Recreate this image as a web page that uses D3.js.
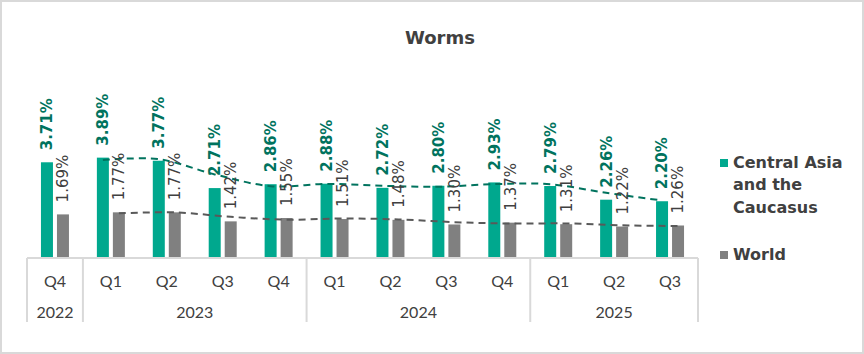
<!DOCTYPE html>
<html>
<head>
<meta charset="utf-8">
<script src="https://cdn.jsdelivr.net/npm/d3@7"></script>
<style>
  body { margin: 0; background: #fff; }
  svg { display: block; }
</style>
</head>
<body>
<div id="chart"></div>
<script>
// chart data
const quarters = ["Q4", "Q1", "Q2", "Q3", "Q4", "Q1", "Q2", "Q3", "Q4", "Q1", "Q2", "Q3"]
const years = [
    { label: "2022", from: 0, to: 0 },
    { label: "2023", from: 1, to: 4 },
    { label: "2024", from: 5, to: 8 },
    { label: "2025", from: 9, to: 11 }
]
const centralAsia = [3.71, 3.89, 3.77, 2.71, 2.86, 2.88, 2.72, 2.80, 2.93, 2.79, 2.26, 2.20]
const world = [1.69, 1.77, 1.77, 1.42, 1.55, 1.51, 1.48, 1.30, 1.37, 1.31, 1.22, 1.26]
const seriesNames = ["Central Asia and the Caucasus", "World"]

const W = 864, H = 354
const green = "#00a88e", greenDark = "#00735e", grey = "#808080", greyDark = "#595959"
const textCol = "#404040", lineCol = "#d9d9d9"

const svg = d3.select("#chart").append("svg")
    .attr("width", W)
    .attr("height", H)

// outer frame
svg.append("rect")
    .attr("x", 1).attr("y", 1)
    .attr("width", W - 2).attr("height", H - 2)
    .attr("fill", "#fff")
    .attr("stroke", lineCol)
    .attr("stroke-width", 2)

// title
svg.append("text")
    .attr("x", 440).attr("y", 44)
    .attr("text-anchor", "middle")
    .style("font-family", "DejaVu Sans")
    .style("font-weight", "bold")
    .style("font-size", "18px")
    .style("fill", textCol)
    .text("Worms")

// scales
const x = d3.scaleBand()
    .domain(d3.range(quarters.length))
    .range([27, 698])
    .padding(0)

const y = d3.scaleLinear()
    .domain([0, 4])
    .range([258, 258 - 4 * 25.8])

const barW = 12
const center = i => x(i) + x.bandwidth() / 2
const xGreen = i => center(i) - 8
const xGrey = i => center(i) + 8

const plot = svg.append("g")

// bars
plot.selectAll(".bar-ca")
    .data(centralAsia)
    .join("rect")
    .attr("class", "bar-ca")
    .attr("x", (d, i) => xGreen(i) - barW / 2)
    .attr("y", d => y(d))
    .attr("width", barW)
    .attr("height", d => y(0) - y(d))
    .attr("fill", green)

plot.selectAll(".bar-w")
    .data(world)
    .join("rect")
    .attr("class", "bar-w")
    .attr("x", (d, i) => xGrey(i) - barW / 2)
    .attr("y", d => y(d))
    .attr("width", barW)
    .attr("height", d => y(0) - y(d))
    .attr("fill", grey)

// 2 period moving average trendlines
function movingAvg(vals) {
    const out = []
    for (let i = 1; i < vals.length; i++) {
        out.push({ i: i, v: (vals[i - 1] + vals[i]) / 2 })
    }
    return out
}

const trendGreen = d3.line()
    .x(d => xGreen(d.i))
    .y(d => y(d.v))
    .curve(d3.curveCatmullRom)

const trendGrey = d3.line()
    .x(d => xGrey(d.i))
    .y(d => y(d.v))
    .curve(d3.curveCatmullRom)

plot.append("path")
    .attr("d", trendGrey(movingAvg(world)))
    .attr("fill", "none")
    .attr("stroke", greyDark)
    .attr("stroke-width", 2)
    .attr("stroke-dasharray", "7,5")

plot.append("path")
    .attr("d", trendGreen(movingAvg(centralAsia)))
    .attr("fill", "none")
    .attr("stroke", greenDark)
    .attr("stroke-width", 2)
    .attr("stroke-dasharray", "7,5")

// value labels (rotated)
plot.selectAll(".lab-ca")
    .data(centralAsia)
    .join("text")
    .attr("class", "lab-ca")
    .attr("transform", (d, i) => `translate(${xGreen(i)},${y(d) - 12}) rotate(-90)`)
    .attr("dy", "0.36em")
    .style("font-family", "DejaVu Sans")
    .style("font-weight", "bold")
    .style("font-size", "15px")
    .style("fill", greenDark)
    .text(d => d.toFixed(2) + "%")

plot.selectAll(".lab-w")
    .data(world)
    .join("text")
    .attr("class", "lab-w")
    .attr("transform", (d, i) => `translate(${xGrey(i)},${y(d) - 12}) rotate(-90)`)
    .attr("dy", "0.36em")
    .style("font-family", "DejaVu Sans")
    .style("font-size", "15px")
    .style("fill", textCol)
    .text(d => d.toFixed(2) + "%")

// category axis with year groups
const axis = svg.append("g")

axis.append("line")
    .attr("x1", 27).attr("x2", 698)
    .attr("y1", y(0)).attr("y2", y(0))
    .attr("stroke", lineCol)
    .attr("stroke-width", 2)

const seps = [x(0)].concat(years.map(g => x(g.to) + x.bandwidth()))
axis.selectAll(".sep")
    .data(seps)
    .join("line")
    .attr("class", "sep")
    .attr("x1", d => d).attr("x2", d => d)
    .attr("y1", y(0)).attr("y2", 322)
    .attr("stroke", lineCol)
    .attr("stroke-width", 2)

axis.selectAll(".qlab")
    .data(quarters)
    .join("text")
    .attr("class", "qlab")
    .attr("x", (d, i) => center(i))
    .attr("y", 287)
    .attr("text-anchor", "middle")
    .style("font-family", "Lato")
    .style("font-size", "16px")
    .style("fill", textCol)
    .text(d => d)

axis.selectAll(".ylab")
    .data(years)
    .join("text")
    .attr("class", "ylab")
    .attr("x", d => (x(d.from) + x(d.to) + x.bandwidth()) / 2)
    .attr("y", 318)
    .attr("text-anchor", "middle")
    .style("font-family", "Lato")
    .style("font-size", "16px")
    .style("fill", textCol)
    .text(d => d.label)

// legend
const legend = svg.append("g")
const legendItems = [
    { lines: ["Central Asia", "and the", "Caucasus"], color: green, y: 168 },
    { lines: ["World"], color: grey, y: 260 }
]

legend.selectAll(".sw")
    .data(legendItems)
    .join("rect")
    .attr("class", "sw")
    .attr("x", 720).attr("y", d => d.y - 9)
    .attr("width", 8).attr("height", 8)
    .attr("fill", d => d.color)

legend.selectAll(".lt")
    .data(legendItems)
    .join("text")
    .attr("class", "lt")
    .attr("y", d => d.y)
    .style("font-family", "DejaVu Sans")
    .style("font-weight", "bold")
    .style("font-size", "16px")
    .style("fill", textCol)
    .each(function (d) {
        d3.select(this).selectAll("tspan")
            .data(d.lines)
            .join("tspan")
            .attr("x", 733)
            .attr("dy", (t, k) => k === 0 ? 0 : 22.3)
            .text(t => t)
    })
</script>
</body>
</html>
